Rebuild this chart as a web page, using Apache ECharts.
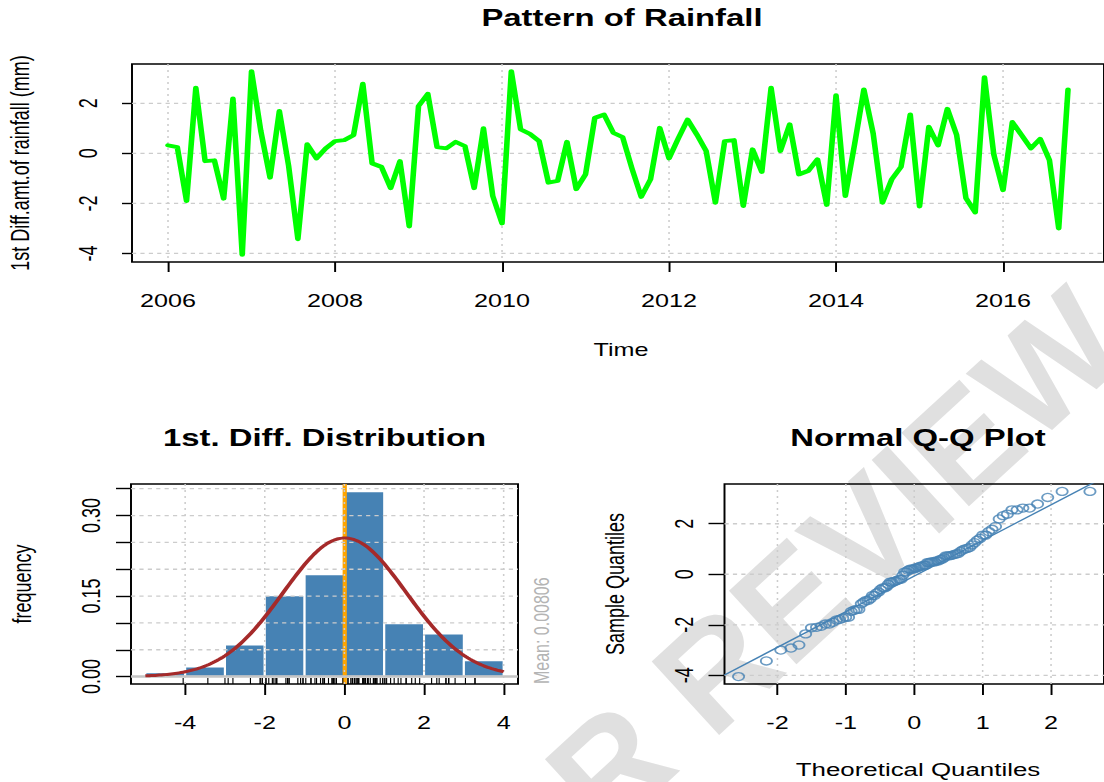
<!DOCTYPE html>
<html>
<head>
<meta charset="utf-8">
<title>Pattern of Rainfall</title>
<script src="https://cdn.jsdelivr.net/npm/echarts@6/dist/echarts.min.js"></script>
<style>
  html, body { margin: 0; padding: 0; background: #fff; width: 1104px; height: 782px; overflow: hidden; }
  #mark {
    position: absolute; left: 0; top: 0; white-space: nowrap; line-height: 1;
    font: bold 145px "Liberation Sans", Arial, sans-serif; color: #e0e0e0;
    transform-origin: 0 0;
    transform: translate(450px, 968px) rotate(-42.5deg) translate(0, -123px);
  }
  #chart {
    position: absolute; left: 0; top: 0; width: 789px; height: 782px;
    transform: scaleX(1.39924); transform-origin: 0 0;
  }
</style>
</head>
<body>
<div id="mark">FOR REVIEW</div>
<div id="chart"></div>
<script>
// ---- data -------------------------------------------------------------
const startYear = 2006;
const perYear = 9;
const rainDiff = [
  0.32, 0.25, -1.90, 2.62, -0.31, -0.28, -1.81, 2.19, -4.05,
  3.28, 0.90, -0.97, 1.69, -0.50, -3.43, 0.36, -0.20, 0.20,
  0.49, 0.53, 0.73, 2.78, -0.40, -0.54, -1.39, -0.31, -2.92,
  1.89, 2.38, 0.25, 0.20, 0.46, 0.29, -1.39, 1.00, -1.70,
  -2.80, 3.28, 0.96, 0.78, 0.49, -1.17, -1.10, 0.46, -1.43,
  -0.84, 1.42, 1.55, 0.82, 0.65, -0.60, -1.74, -1.04, 1.02,
  -0.20, 0.60, 1.35, 0.75, 0.09, -1.97, 0.49, 0.53, -2.10,
  0.16, -0.74, 2.62, 0.09, 1.16, -0.84, -0.70, -0.24, -2.06,
  2.32, -1.70, 0.36, 2.55, 0.80, -1.97, -1.04, -0.54, 1.55,
  -2.12, 1.06, 0.32, 1.78, 0.73, -1.79, -2.36, 3.04, -0.04,
  -1.47, 1.25, 0.73, 0.20, 0.58, -0.27, -3.00, 2.55
];
const yearTicks = [2006, 2008, 2010, 2012, 2014, 2016];
const diffTicks = [-4, -2, 0, 2];

const histBreaks = [-5, -4, -3, -2, -1, 0, 1, 2, 3, 4];
const histDensity = [0.0075, 0.0185, 0.0595, 0.151, 0.190, 0.345, 0.099, 0.080, 0.0298];
const histXTicks = [-4, -2, 0, 2, 4];
const histYTicks = [0, 0.05, 0.10, 0.15, 0.20, 0.25, 0.30, 0.35];
const histYLabels = [0, 0.15, 0.30];
const meanValue = 0.00806;

const qqXTicks = [-2, -1, 0, 1, 2];
const qqYTicks = [-4, -2, 0, 2];

// ---- helpers ----------------------------------------------------------
const FONT = '"Liberation Sans", Arial, Helvetica, sans-serif';
const S = 1104 / 789;            // horizontal stretch of the drawing
const ix = px => px / S;         // page x -> chart x

function padRange(lo, hi) { const d = (hi - lo) * 0.04; return [lo - d, hi + d]; }

function qnorm(p) {
  const a = [-3.969683028665376e+01, 2.209460984245205e+02, -2.759285104469687e+02, 1.383577518672690e+02, -3.066479806614716e+01, 2.506628277459239e+00];
  const b = [-5.447609879822406e+01, 1.615858368580409e+02, -1.556989798598866e+02, 6.680131188771972e+01, -1.328068155288572e+01];
  const c = [-7.784894002430293e-03, -3.223964580411365e-01, -2.400758277161838e+00, -2.549732539343734e+00, 4.374664141464968e+00, 2.938163982698783e+00];
  const d = [7.784695709041462e-03, 3.224671290700398e-01, 2.445134137142996e+00, 3.754408661907416e+00];
  const pl = 0.02425, ph = 1 - pl;
  let q, r;
  if (p < pl) {
    q = Math.sqrt(-2 * Math.log(p));
    return (((((c[0]*q+c[1])*q+c[2])*q+c[3])*q+c[4])*q+c[5]) / ((((d[0]*q+d[1])*q+d[2])*q+d[3])*q+1);
  }
  if (p > ph) {
    q = Math.sqrt(-2 * Math.log(1 - p));
    return -(((((c[0]*q+c[1])*q+c[2])*q+c[3])*q+c[4])*q+c[5]) / ((((d[0]*q+d[1])*q+d[2])*q+d[3])*q+1);
  }
  q = p - 0.5; r = q * q;
  return (((((a[0]*r+a[1])*r+a[2])*r+a[3])*r+a[4])*r+a[5])*q / (((((b[0]*r+b[1])*r+b[2])*r+b[3])*r+b[4])*r+1);
}

function quantile7(sorted, p) {
  const h = (sorted.length - 1) * p, lo = Math.floor(h);
  return sorted[lo] + (h - lo) * ((sorted[lo + 1] ?? sorted[lo]) - sorted[lo]);
}

// ---- derived values ---------------------------------------------------
const n = rainDiff.length;
const sampleMean = rainDiff.reduce((s, v) => s + v, 0) / n;
const sampleSd = Math.sqrt(rainDiff.reduce((s, v) => s + (v - sampleMean) ** 2, 0) / (n - 1));

const timeRange = padRange(startYear, startYear + (n - 1) / perYear);
const diffRange = padRange(Math.min(...rainDiff), Math.max(...rainDiff));
const histXRange = padRange(histBreaks[0], histBreaks[histBreaks.length - 1]);
const histYRange = padRange(0, Math.max(...histDensity));

const sorted = rainDiff.slice().sort((a, b) => a - b);
const theo = sorted.map((_, i) => qnorm((i + 0.5) / n));
const qqXRange = padRange(theo[0], theo[n - 1]);
const qSlope = (quantile7(sorted, 0.75) - quantile7(sorted, 0.25)) / (qnorm(0.75) - qnorm(0.25));
const qInt = quantile7(sorted, 0.25) - qSlope * qnorm(0.25);

const densityPts = [];
for (let i = 0; i <= 180; i++) {
  const x = histBreaks[0] + i * 0.05;
  densityPts.push([x, Math.exp(-0.5 * ((x - meanValue) / sampleSd) ** 2) / (sampleSd * Math.sqrt(2 * Math.PI))]);
}

// ---- axis + reference line builders -----------------------------------
function xAxisCfg(gi, range, ticks, fmt, tickLen, margin) {
  return {
    type: 'value', gridIndex: gi, min: range[0], max: range[1],
    axisLine: { show: false, onZero: false }, splitLine: { show: false },
    axisTick: { show: true, customValues: ticks, length: tickLen, lineStyle: { color: '#000', width: 1.4 } },
    axisLabel: { show: true, customValues: ticks, formatter: fmt, margin, color: '#000', fontFamily: FONT, fontSize: 18 }
  };
}
function yAxisCfg(gi, range, ticks, labels, fmt, tickLen, margin) {
  return {
    type: 'value', gridIndex: gi, min: range[0], max: range[1],
    axisLine: { show: false, onZero: false }, splitLine: { show: false },
    axisTick: { show: true, customValues: ticks, length: tickLen, lineStyle: { color: '#000', width: 1.4 } },
    axisLabel: { show: true, customValues: labels, formatter: fmt, margin, rotate: 90, color: '#000', fontFamily: FONT, fontSize: 18 }
  };
}
function vLines(gi, values, yMid, style, z) {
  return {
    type: 'custom', xAxisIndex: gi, yAxisIndex: gi, z, silent: true, clip: true,
    data: values.map(v => [v, yMid]),
    renderItem(params, api) {
      const cs = params.coordSys, p = api.coord([api.value(0), api.value(1)]);
      return { type: 'line', shape: { x1: p[0], y1: cs.y, x2: p[0], y2: cs.y + cs.height }, style };
    }
  };
}
function hLines(gi, values, xMid, style, z) {
  return {
    type: 'custom', xAxisIndex: gi, yAxisIndex: gi, z, silent: true, clip: true,
    data: values.map(v => [xMid, v]),
    renderItem(params, api) {
      const cs = params.coordSys, p = api.coord([api.value(0), api.value(1)]);
      return { type: 'line', shape: { x1: cs.x, y1: p[1], x2: cs.x + cs.width, y2: p[1] }, style };
    }
  };
}
const dotted = { stroke: '#cccccc', lineWidth: 1.1, lineDash: [2, 4] };
const dashed = { stroke: '#cccccc', lineWidth: 1.3, lineDash: [3, 3] };

function text(x, y, str, opts) {
  return {
    type: 'text', x: ix(x), y, rotation: opts.rot || 0, silent: true, z: 10,
    style: {
      text: str, fill: opts.color || '#000', fontFamily: FONT, fontSize: opts.size || 18,
      fontWeight: opts.bold ? 'bold' : 'normal',
      align: opts.align || 'center', verticalAlign: 'middle',
      textAlign: opts.align || 'center', textVerticalAlign: 'middle'
    }
  };
}

const gridBox = { show: true, borderColor: '#000', borderWidth: 1.4, backgroundColor: 'transparent' };

const option = {
  animation: false,
  textStyle: { fontFamily: FONT },
  grid: [
    Object.assign({ left: ix(132), top: 64, width: ix(978.7), height: 198 }, gridBox),
    Object.assign({ left: ix(131), top: 484, width: ix(387), height: 200 }, gridBox),
    Object.assign({ left: ix(724.5), top: 484, width: ix(385), height: 200 }, gridBox)
  ],
  xAxis: [
    xAxisCfg(0, timeRange, yearTicks, v => String(v), 10, 30),
    xAxisCfg(1, histXRange, histXTicks, v => String(v), 11, 30),
    xAxisCfg(2, qqXRange, qqXTicks, v => String(v), 11, 30)
  ],
  yAxis: [
    yAxisCfg(0, diffRange, diffTicks, diffTicks, v => String(v), ix(10), 22),
    yAxisCfg(1, histYRange, histYTicks, histYLabels, v => v.toFixed(2), ix(15), 19),
    yAxisCfg(2, [diffRange[0], diffRange[1]], qqYTicks, qqYTicks, v => String(v), ix(16), 20)
  ],
  series: [
    // time series panel
    vLines(0, yearTicks, 0, dotted, 1),
    hLines(0, diffTicks, startYear, dashed, 1),
    {
      type: 'line', xAxisIndex: 0, yAxisIndex: 0, z: 5, clip: true,
      symbol: 'none', showSymbol: false,
      lineStyle: { color: '#00ff00', width: 4, join: 'round', cap: 'round' },
      data: rainDiff.map((v, i) => [startYear + i / perYear, v])
    },
    // histogram panel
    {
      type: 'custom', xAxisIndex: 1, yAxisIndex: 1, z: 2, silent: true,
      encode: { x: [0, 1], y: 2 },
      data: histDensity.map((h, i) => [histBreaks[i], histBreaks[i + 1], h]),
      renderItem(params, api) {
        const p0 = api.coord([api.value(0), 0]);
        const p1 = api.coord([api.value(1), api.value(2)]);
        return {
          type: 'rect',
          shape: { x: p0[0], y: p1[1], width: p1[0] - p0[0], height: p0[1] - p1[1] },
          style: { fill: '#4682b4', stroke: '#ffffff', lineWidth: 1.5 }
        };
      }
    },
    vLines(1, [meanValue], 0.1, { stroke: '#ffa500', lineWidth: 3 }, 3),
    vLines(1, histXTicks, 0.1, dotted, 4),
    hLines(1, histYTicks.slice(1), 0, dashed, 4),
    hLines(1, [0], 0, { stroke: '#c4c4c4', lineWidth: 2.5 }, 4),
    {
      type: 'custom', xAxisIndex: 1, yAxisIndex: 1, z: 6, silent: true, clip: true,
      data: rainDiff.map(v => [v, histYRange[0]]),
      renderItem(params, api) {
        const p = api.coord([api.value(0), api.value(1)]);
        return { type: 'line', shape: { x1: p[0], y1: p[1] - 6, x2: p[0], y2: p[1] }, style: { stroke: '#000', lineWidth: 0.8 } };
      }
    },
    {
      type: 'line', xAxisIndex: 1, yAxisIndex: 1, z: 7, clip: true,
      symbol: 'none', showSymbol: false, smooth: false,
      lineStyle: { color: '#a52a2a', width: 3, join: 'round' },
      data: densityPts
    },
    // normal Q-Q panel
    vLines(2, qqXTicks, 0, dotted, 1),
    hLines(2, qqYTicks, 0, dashed, 1),
    {
      type: 'line', xAxisIndex: 2, yAxisIndex: 2, z: 5, clip: true,
      symbol: 'none', showSymbol: false,
      lineStyle: { color: '#4682b4', width: 1.3 },
      data: [[qqXRange[0], qInt + qSlope * qqXRange[0]], [qqXRange[1], qInt + qSlope * qqXRange[1]]]
    },
    {
      type: 'scatter', xAxisIndex: 2, yAxisIndex: 2, z: 6, clip: true,
      symbol: 'circle', symbolSize: 8,
      itemStyle: { color: 'rgba(0,0,0,0)', borderColor: '#4682b4', borderWidth: 1.3 },
      data: sorted.map((v, i) => [theo[i], v])
    }
  ],
  graphic: [
    text(622, 18, 'Pattern of Rainfall', { bold: true, size: 23.5 }),
    text(621, 350, 'Time', {}),
    text(20, 163, '1st Diff.amt.of rainfall (mm)', { rot: Math.PI / 2 }),
    text(324.5, 438, '1st. Diff. Distribution', { bold: true, size: 23.5 }),
    text(22, 584, 'frequency', { rot: Math.PI / 2 }),
    text(540.5, 684, 'Mean: ' + meanValue, { rot: Math.PI / 2, size: 16, color: '#b4b4b4', align: 'left' }),
    text(918, 438, 'Normal Q-Q Plot', { bold: true, size: 23.5 }),
    text(615, 584, 'Sample Quantiles', { rot: Math.PI / 2 }),
    text(918, 770, 'Theoretical Quantiles', { size: 18.5 })
  ]
};

const chart = echarts.init(document.getElementById('chart'), null, { renderer: 'svg' });
chart.setOption(option);
</script>
</body>
</html>
